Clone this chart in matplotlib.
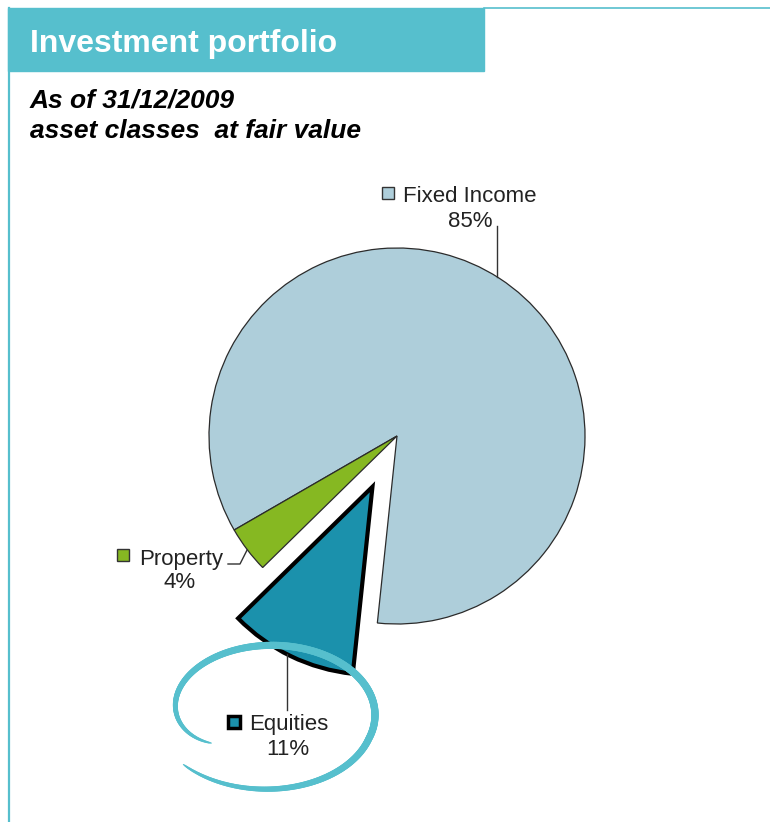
import numpy as np
import matplotlib
matplotlib.use("Agg")
import matplotlib.pyplot as plt
from matplotlib.patches import Rectangle
from matplotlib.collections import LineCollection

plt.rcParams["font.family"] = ["Liberation Sans", "DejaVu Sans"]

# ── data ────────────────────────────────────────────────────────────
labels = ["Fixed Income", "Property", "Equities"]
shares = [85, 4, 11]
colors = ["#AECEDA", "#86B822", "#1B91AC"]
explode = [0, 0, 0.30]          # fraction of radius

TITLE = "Investment portfolio"
SUB1 = "As of 31/12/2009"
SUB2 = "asset classes  at fair value"

TEAL = "#56BFCD"
W, H = 770, 822


def Y(y):
    # pixel row (from top) -> data y (from bottom)
    return H - y


fig = plt.figure(figsize=(W / 100, H / 100), dpi=100, facecolor="white")
ax = fig.add_axes([0, 0, 1, 1])

# ── pie ─────────────────────────────────────────────────────────────
R = 188
CX, CY = 397, Y(436)
# pie() applies explode in data units, so scale by the radius
wedges, _ = ax.pie(shares, colors=colors, explode=[e * R for e in explode],
                   startangle=-96, counterclock=True, radius=R,
                   center=(CX, CY), frame=True,
                   wedgeprops=dict(edgecolor="#2b2b2b", linewidth=0.9))
wedges[2].set_edgecolor("black")
wedges[2].set_linewidth(3.0)
wedges[2].set_joinstyle("miter")

ax.set_xlim(0, W)
ax.set_ylim(0, H)
ax.set_aspect("auto")
ax.axis("off")

# ── header & frame ──────────────────────────────────────────────────
ax.add_patch(Rectangle((8, Y(71)), 476, 63, color=TEAL, zorder=1))
ax.plot([484, W], [Y(8.5), Y(8.5)], color=TEAL, lw=1.2)
ax.plot([8.5, 8.5], [Y(8), 0], color=TEAL, lw=1.6)
ax.text(30, Y(52), TITLE, color="white", fontsize=23, fontweight="bold",
        va="baseline", ha="left")
ax.text(30, Y(108), SUB1, color="black", fontsize=19, fontweight="bold",
        style="italic", va="baseline", ha="left")
ax.text(30, Y(138), SUB2, color="black", fontsize=19, fontweight="bold",
        style="italic", va="baseline", ha="left")

# ── labels with leader lines ────────────────────────────────────────
LC = "#333333"
LFS = 16

# Fixed Income
lx = 497
ey = CY + np.sqrt(R ** 2 - (lx - CX) ** 2)
ax.plot([lx, lx], [Y(226), ey], color=LC, lw=1.0)
ax.plot(388, Y(193), marker="s", ms=8, mfc=colors[0], mec="#333333", mew=1.0)
ax.text(403, Y(202), labels[0], fontsize=LFS, color="#222222", va="baseline")
ax.text(470, Y(227), f"{shares[0]}%", fontsize=LFS, color="#222222",
        va="baseline", ha="center")

# Property
w = wedges[1]
mid = np.radians((w.theta1 + w.theta2) / 2)
px, py = w.center[0] + R * np.cos(mid), w.center[1] + R * np.sin(mid)
ax.plot([228, 240, px], [Y(564), Y(564), py], color=LC, lw=1.0)
ax.plot(123, Y(555), marker="s", ms=8, mfc=colors[1], mec="#333333", mew=1.0)
ax.text(139, Y(565), labels[1], fontsize=LFS, color="#222222", va="baseline")
ax.text(180, Y(588), f"{shares[1]}%", fontsize=LFS, color="#222222",
        va="baseline", ha="center")

# Equities
w = wedges[2]
ex = 287
ecx, ecy = w.center
ey = ecy - np.sqrt(R ** 2 - (ex - ecx) ** 2)
ax.plot([ex, ex], [Y(710), ey], color=LC, lw=1.0)
ax.plot(233.5, Y(721.5), marker="s", ms=8, mfc=colors[2], mec="black", mew=2.5)
ax.text(249, Y(730), labels[2], fontsize=LFS, color="#222222", va="baseline")
ax.text(288, Y(755), f"{shares[2]}%", fontsize=LFS, color="#222222",
        va="baseline", ha="center")

# ── hand-drawn highlight loop ───────────────────────────────────────
t = np.radians(np.linspace(145, 500, 400))
deg = np.degrees(t)
s = 1.0 - 0.3 * np.exp(-(deg - 145) / 30) + 0.1 * np.clip((deg - 380) / 120, 0, 1)
lx_ = 271 + 104 * s * np.cos(t)
ly_ = Y(715 + 70 * s * np.sin(t))
pts = np.column_stack([lx_, ly_]).reshape(-1, 1, 2)
segs = np.concatenate([pts[:-1], pts[1:]], axis=1)
u = np.linspace(0, 1, len(segs))
widths = 0.8 + 4.6 * np.sin(np.pi * u) ** 0.5
ax.add_collection(LineCollection(segs, linewidths=widths, colors=TEAL,
                                 capstyle="round", zorder=5))

plt.savefig("out.png", dpi=100, facecolor="white")
